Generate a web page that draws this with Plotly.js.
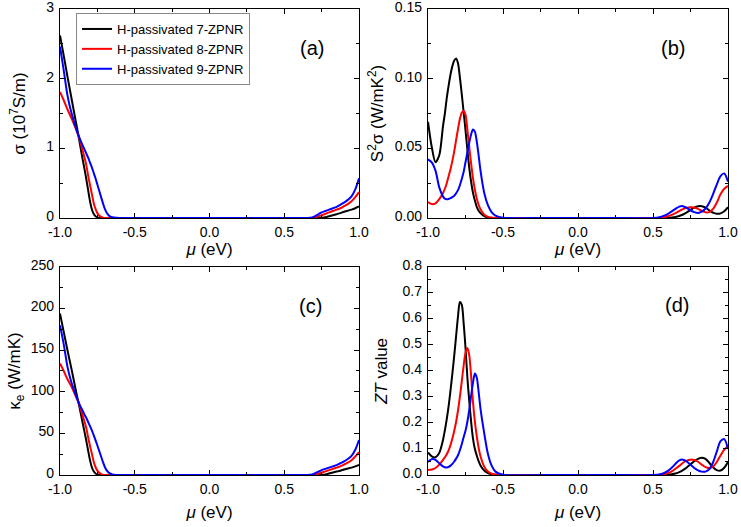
<!DOCTYPE html>
<html>
<head>
<meta charset="utf-8">
<script src="https://cdn.plot.ly/plotly-3.0.1.min.js"></script>
<style>
  html, body { margin: 0; padding: 0; background: #fff; }
  #chart { width: 741px; height: 527px; }
</style>
</head>
<body>
<div id="chart"></div>
<script>
// chemical potential grid (eV), denser around the peaks
const mu = [
  -1, -0.975, -0.95, -0.925, -0.9, -0.8875, -0.875, -0.8625, -0.85, -0.8375,
  -0.825, -0.8125, -0.8, -0.7875, -0.775, -0.7625, -0.75, -0.7375, -0.725, -0.7125,
  -0.7, -0.6875, -0.675, -0.6625, -0.65, -0.625, -0.6, -0.575, -0.55, -0.5,
  -0.25, 0, 0.25, 0.5, 0.55, 0.575, 0.6, 0.625, 0.65, 0.675,
  0.7, 0.725, 0.75, 0.775, 0.8, 0.825, 0.85, 0.875, 0.9, 0.925,
  0.95, 0.975, 1
];

const seriesNames = ['H-passivated 7-ZPNR', 'H-passivated 8-ZPNR', 'H-passivated 9-ZPNR'];
const seriesColors = ['#000000', '#ff0000', '#0000ff'];

// (a) sigma, 10^7 S/m
const sigma7 = [
  2.62, 2.33, 2.03, 1.74, 1.45, 1.31, 1.16, 1.01, 0.86, 0.72,
  0.57, 0.41, 0.25, 0.13, 0.06, 0.025, 0.01, 0.003, 0, 0,
  0, 0, 0, 0, 0, 0, 0, 0, 0, 0,
  0, 0, 0, 0, 0, 0, 0, 0, 0, 0,
  0, 0, 0.003, 0.01, 0.025, 0.04, 0.055, 0.07, 0.09, 0.105,
  0.12, 0.14, 0.165
];
const sigma8 = [
  1.81, 1.69, 1.56, 1.44, 1.31, 1.245, 1.17, 1.08, 0.98, 0.88,
  0.77, 0.62, 0.48, 0.35, 0.22, 0.13, 0.07, 0.035, 0.015, 0.005,
  0.001, 0, 0, 0, 0, 0, 0, 0, 0, 0,
  0, 0, 0, 0, 0, 0, 0, 0, 0, 0,
  0.005, 0.02, 0.04, 0.06, 0.08, 0.1, 0.12, 0.14, 0.17, 0.2,
  0.24, 0.3, 0.37
];
const sigma9 = [
  2.46, 2.12, 1.76, 1.52, 1.34, 1.25, 1.18, 1.11, 1.05, 0.99,
  0.93, 0.87, 0.8, 0.73, 0.65, 0.57, 0.48, 0.39, 0.3, 0.21,
  0.13, 0.075, 0.04, 0.02, 0.01, 0.002, 0, 0, 0, 0,
  0, 0, 0, 0, 0, 0, 0, 0, 0, 0.003,
  0.02, 0.05, 0.08, 0.1, 0.12, 0.14, 0.16, 0.19, 0.22, 0.26,
  0.31, 0.41, 0.57
];

// (b) power factor S^2 sigma, W/mK^2
const pf7 = [
  0.069, 0.051, 0.04, 0.045, 0.066, 0.075, 0.086, 0.095, 0.103, 0.109,
  0.113, 0.1145, 0.111, 0.101, 0.089, 0.076, 0.063, 0.049, 0.036, 0.026,
  0.018, 0.0125, 0.008, 0.0052, 0.0035, 0.0013, 0.0004, 0.0001, 0, 0,
  0, 0, 0, 0, 0, 0, 0.0001, 0.0003, 0.0007, 0.0014,
  0.0025, 0.004, 0.0058, 0.0074, 0.0084, 0.0085, 0.0075, 0.0055, 0.0038, 0.003,
  0.0033, 0.0048, 0.0078
];
const pf8 = [
  0.0115, 0.01, 0.0105, 0.0135, 0.018, 0.021, 0.025, 0.03, 0.035, 0.041,
  0.048, 0.056, 0.064, 0.071, 0.0755, 0.077, 0.074, 0.0635, 0.051, 0.039,
  0.0285, 0.0205, 0.014, 0.0095, 0.0063, 0.0024, 0.0008, 0.0002, 0, 0,
  0, 0, 0, 0, 0.0002, 0.0006, 0.0012, 0.0022, 0.0035, 0.005,
  0.0064, 0.0073, 0.0077, 0.0076, 0.0066, 0.0052, 0.0042, 0.0042, 0.0065, 0.011,
  0.017, 0.021, 0.023
];
const pf9 = [
  0.042, 0.04, 0.034, 0.022, 0.0155, 0.0138, 0.0134, 0.0136, 0.0142, 0.015,
  0.016, 0.0178, 0.02, 0.0235, 0.028, 0.033, 0.04, 0.047, 0.054, 0.06,
  0.0635, 0.062, 0.055, 0.045, 0.034, 0.018, 0.009, 0.004, 0.0017, 0.0002,
  0, 0, 0, 0, 0.0008, 0.0017, 0.003, 0.0047, 0.0066, 0.0082,
  0.0085, 0.0072, 0.0055, 0.0042, 0.0036, 0.0045, 0.0068, 0.011, 0.017, 0.024,
  0.03, 0.032, 0.026
];

// (c) electronic thermal conductivity, W/mK
const ke7 = [
  194, 172, 150, 129, 107, 96, 86, 75, 64, 53,
  42, 30, 18.5, 9.6, 4.4, 1.8, 0.7, 0.2, 0, 0,
  0, 0, 0, 0, 0, 0, 0, 0, 0, 0,
  0, 0, 0, 0, 0, 0, 0, 0, 0, 0,
  0, 0, 0.2, 0.7, 1.8, 3, 4.1, 5.2, 6.7, 7.8,
  8.9, 10.4, 12.2
];
const ke8 = [
  134, 125, 115, 107, 97, 92, 87, 80, 72.5, 65,
  57, 46, 35.5, 26, 16.3, 9.6, 5.2, 2.6, 1.1, 0.4,
  0.1, 0, 0, 0, 0, 0, 0, 0, 0, 0,
  0, 0, 0, 0, 0, 0, 0, 0, 0, 0,
  0.4, 1.5, 3, 4.4, 5.9, 7.4, 8.9, 10.4, 12.6, 14.8,
  17.8, 22.2, 27.4
];
const ke9 = [
  180, 157, 130, 112, 99, 92.5, 87, 82, 78, 73,
  69, 64, 59, 54, 48, 42, 35.5, 28.9, 22.2, 15.5,
  9.6, 5.5, 3, 1.5, 0.7, 0.15, 0, 0, 0, 0,
  0, 0, 0, 0, 0, 0, 0, 0, 0, 0.2,
  1.5, 3.7, 5.9, 7.4, 8.9, 10.4, 11.8, 14.1, 16.3, 19.2,
  23, 30.3, 42
];

// (d) ZT
const zt7 = [
  0.087, 0.072, 0.068, 0.085, 0.135, 0.172, 0.215, 0.265, 0.325, 0.39,
  0.46, 0.535, 0.61, 0.665, 0.655, 0.585, 0.49, 0.375, 0.285, 0.205,
  0.14, 0.1, 0.075, 0.053, 0.037, 0.017, 0.007, 0.0025, 0.001, 0,
  0, 0, 0, 0, 0, 0, 0.001, 0.003, 0.006, 0.011,
  0.019, 0.029, 0.041, 0.053, 0.062, 0.066, 0.062, 0.047, 0.03, 0.019,
  0.017, 0.028, 0.05
];
const zt8 = [
  0.019, 0.021, 0.027, 0.04, 0.058, 0.068, 0.08, 0.095, 0.115, 0.14,
  0.17, 0.205, 0.248, 0.3, 0.36, 0.42, 0.47, 0.488, 0.46, 0.38,
  0.28, 0.205, 0.15, 0.105, 0.072, 0.032, 0.013, 0.005, 0.002, 0,
  0, 0, 0, 0, 0.001, 0.003, 0.007, 0.014, 0.024, 0.035,
  0.047, 0.055, 0.059, 0.058, 0.051, 0.04, 0.03, 0.027, 0.032, 0.05,
  0.075, 0.098, 0.112
];
const zt9 = [
  0.05, 0.061, 0.058, 0.045, 0.033, 0.03, 0.029, 0.031, 0.036, 0.043,
  0.052, 0.063, 0.076, 0.095, 0.118, 0.145, 0.17, 0.205, 0.25, 0.305,
  0.355, 0.39, 0.375, 0.32, 0.255, 0.16, 0.08, 0.035, 0.013, 0.001,
  0, 0, 0, 0, 0.003, 0.008, 0.016, 0.028, 0.043, 0.056,
  0.059, 0.052, 0.039, 0.027, 0.018, 0.013, 0.013, 0.022, 0.048, 0.09,
  0.13, 0.138, 0.1
];

const muTicks = [-1, -0.5, 0, 0.5, 1];
const muTickText = ['-1.0', '-0.5', '0.0', '0.5', '1.0'];
const sigmaTicks = [0, 1, 2, 3];
const sigmaTickText = ['0', '1', '2', '3'];
const pfTicks = [0, 0.05, 0.1, 0.15];
const pfTickText = ['0.00', '0.05', '0.10', '0.15'];
const keTicks = [0, 50, 100, 150, 200, 250];
const keTickText = ['0', '50', '100', '150', '200', '250'];
const ztTicks = [0, 0.1, 0.2, 0.3, 0.4, 0.5, 0.6, 0.7, 0.8];
const ztTickText = ['0.0', '0.1', '0.2', '0.3', '0.4', '0.5', '0.6', '0.7', '0.8'];

const FONT = '"Liberation Sans", Arial, sans-serif';

const panels = [
  {ys: [sigma7, sigma8, sigma9], xa: 'x', ya: 'y', legend: true},
  {ys: [pf7, pf8, pf9], xa: 'x2', ya: 'y2'},
  {ys: [ke7, ke8, ke9], xa: 'x3', ya: 'y3'},
  {ys: [zt7, zt8, zt9], xa: 'x4', ya: 'y4'},
];

const traces = [];
panels.forEach((p) => {
  p.ys.forEach((ys, i) => {
    traces.push({
      x: mu,
      y: ys,
      xaxis: p.xa,
      yaxis: p.ya,
      type: 'scatter',
      mode: 'lines',
      name: seriesNames[i],
      showlegend: !!p.legend,
      line: {color: seriesColors[i], width: 2, shape: 'spline', smoothing: 0.8},
      hoverinfo: 'skip',
    });
  });
});

function baseAxis(extra) {
  return Object.assign({
    showline: true,
    linecolor: '#000',
    linewidth: 1.2,
    mirror: 'allticks',
    ticks: 'inside',
    ticklen: 5,
    tickwidth: 1,
    tickcolor: '#000',
    showgrid: false,
    zeroline: false,
    fixedrange: true,
    ticklabeloverflow: 'allow',
    tickfont: {family: FONT, size: 14, color: '#000'},
  }, extra);
}

function muAxis(domain, anchor, standoff) {
  return baseAxis({
    domain: domain,
    anchor: anchor,
    range: [-1, 1],
    tickmode: 'array',
    tickvals: muTicks,
    ticktext: muTickText,
    ticklabelstandoff: 1,
    minor: {dtick: 0.25, tick0: 0, ticks: 'inside', ticklen: 3, tickcolor: '#000'},
    title: {text: '<i>μ</i> (eV)', font: {family: FONT, size: 17, color: '#000'}, standoff: standoff},
  });
}

function valAxis(domain, anchor, range, vals, text, minorStep, title, standoff) {
  return baseAxis({
    domain: domain,
    anchor: anchor,
    range: range,
    tickmode: 'array',
    tickvals: vals,
    ticktext: text,
    ticklabelstandoff: 2,
    ticklabelshift: -2,
    minor: {dtick: minorStep, tick0: 0, ticks: 'inside', ticklen: 3, tickcolor: '#000'},
    title: {text: title, font: {family: FONT, size: 17, color: '#000'}, standoff: standoff},
  });
}

const leftX = [0, 0.4476];
const rightX = [0.5509, 1];
const topY = [0.5515, 1];
const bottomY = [0, 0.4464];

const layout = {
  width: 741,
  height: 527,
  margin: {l: 60, r: 13, t: 9, b: 52},
  paper_bgcolor: '#fff',
  plot_bgcolor: '#fff',
  font: {family: FONT, color: '#000'},
  xaxis: muAxis(leftX, 'y', 0),
  yaxis: valAxis(topY, 'x', [0, 3], sigmaTicks, sigmaTickText, 0.5, 'σ (10<sup>7</sup>S/m)', 16),
  xaxis2: muAxis(rightX, 'y2', 0),
  yaxis2: valAxis(topY, 'x2', [0, 0.15], pfTicks, pfTickText, 0.025, 'S<sup>2</sup>σ (W/mK<sup>2</sup>)', 6),
  xaxis3: muAxis(leftX, 'y3', 10),
  yaxis3: valAxis(bottomY, 'x3', [0, 250], keTicks, keTickText, 25, 'κ<sub>e</sub> (W/mK)', 5),
  xaxis4: muAxis(rightX, 'y4', 10),
  yaxis4: valAxis(bottomY, 'x4', [0, 0.8], ztTicks, ztTickText, 0.05, '<i>ZT</i> value', 10),
  showlegend: true,
  legend: {
    x: 0.024,
    y: 0.9914,
    xanchor: 'left',
    yanchor: 'top',
    bgcolor: '#fff',
    bordercolor: '#888',
    borderwidth: 1,
    font: {family: FONT, size: 13, color: '#000'},
    tracegroupgap: 0,
  },
  annotations: [
    {text: '(a)', x: 0.3772, y: 0.9163},
    {text: '(b)', x: 0.9177, y: 0.9163},
    {text: '(c)', x: 0.3743, y: 0.3627},
    {text: '(d)', x: 0.9237, y: 0.3648},
  ].map((a) => Object.assign({
    xref: 'paper', yref: 'paper', showarrow: false,
    xanchor: 'center', yanchor: 'middle',
    font: {family: FONT, size: 20, color: '#000'},
  }, a)),
};

Plotly.newPlot('chart', traces, layout, {staticPlot: true, displayModeBar: false});
</script>
</body>
</html>
